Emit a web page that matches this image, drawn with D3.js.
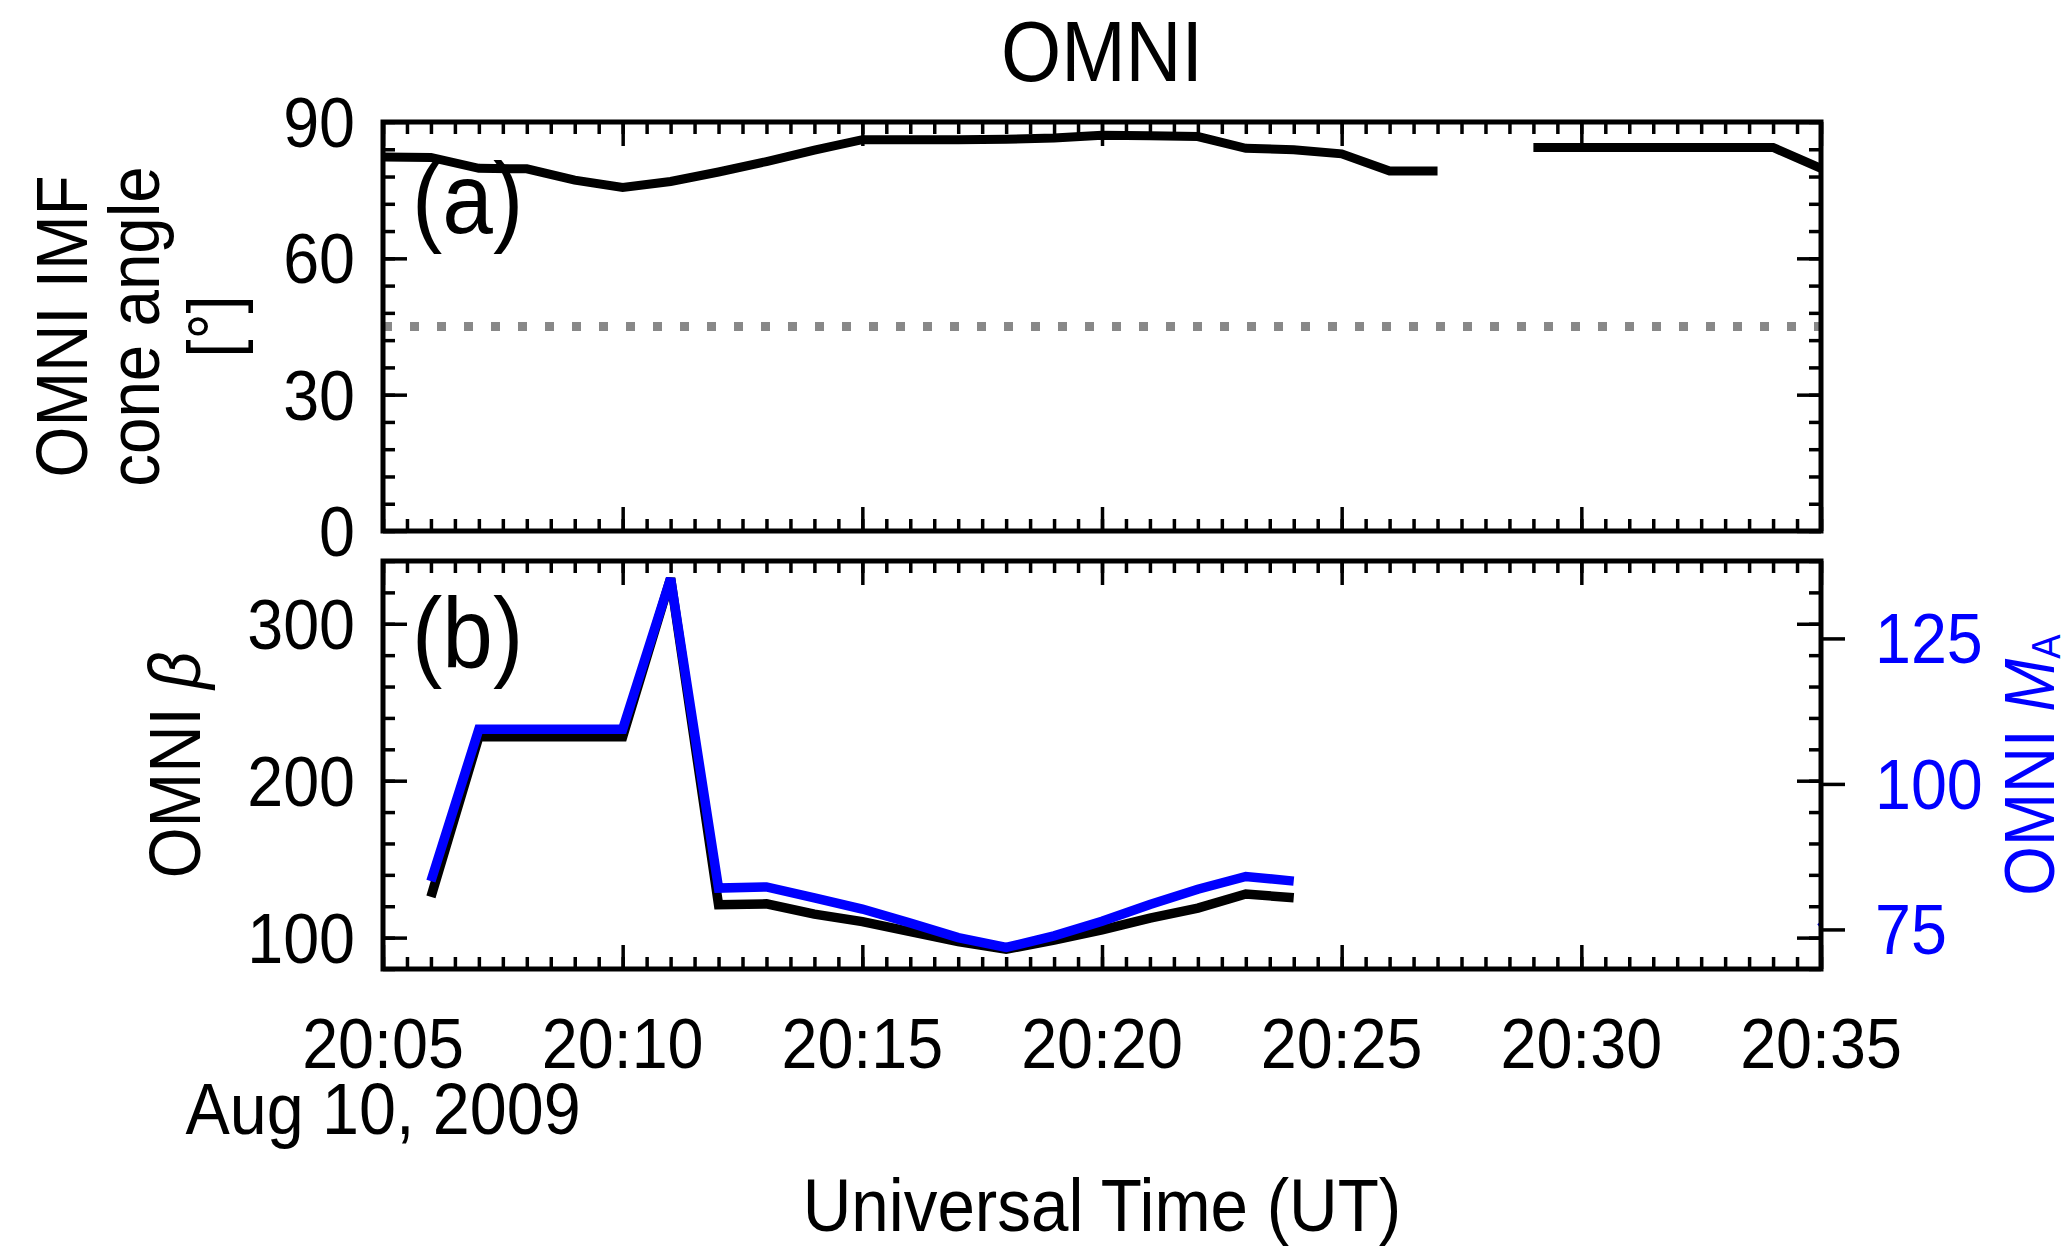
<!DOCTYPE html>
<html>
<head>
<meta charset="utf-8">
<script src="https://cdn.jsdelivr.net/npm/d3@7"></script>
<style>
  html, body { margin: 0; padding: 0; background: #fff; }
  svg { display: block; }
</style>
</head>
<body>
<svg id="chart" width="2072" height="1250"></svg>
<script>
// One-minute OMNI samples, 2009-08-10 (UT)
const times = [
  "20:05","20:06","20:07","20:08","20:09","20:10","20:11","20:12",
  "20:13","20:14","20:15","20:16","20:17","20:18","20:19","20:20",
  "20:21","20:22","20:23","20:24","20:25","20:26","20:27","20:28",
  "20:29","20:30","20:31","20:32","20:33","20:34","20:35","20:36"
];
// IMF cone angle [deg]; null = data gap
const coneAngle = [
  82.3, 82.2, 79.8, 79.7, 77.2, 75.6, 76.9, 79.0,
  81.3, 83.8, 86.1, 86.1, 86.1, 86.2, 86.5, 87.1,
  87.0, 86.8, 84.2, 83.9, 83.0, 79.2, 79.2, null,
  84.4, 84.4, 84.4, 84.4, 84.4, 84.4, 79.8, null
];
// Plasma beta
const beta = [
  null, 126.0, 228.0, 228.0, 228.0, 228.0, 329.0, 121.0,
  121.5, 115.0, 110.2, 103.8, 97.4, 92.6, 98.5, 104.9,
  112.4, 118.8, 127.8, 125.4, null, null, null, null,
  null, null, null, null, null, null, null, null
];
// Alfven Mach number
const machA = [
  null, 83.3, 109.4, 109.4, 109.4, 109.4, 135.3, 82.1,
  82.3, 80.4, 78.5, 76.1, 73.6, 71.9, 73.9, 76.4,
  79.3, 81.9, 84.1, 83.3, null, null, null, null,
  null, null, null, null, null, null, 76.4, 66.0
];

const xTickLabels = ["20:05","20:10","20:15","20:20","20:25","20:30","20:35"];
const coneTicks = [0, 30, 60, 90];
const betaTicks = [100, 200, 300];
const machTicks = [75, 100, 125];
const coneThreshold = 45;
const dateLabel = "Aug 10, 2009";

const parseUT = s => new Date(Date.UTC(2009, 7, 10, +s.slice(0, 2), +s.slice(3, 5)));

const svg = d3.select("#chart")
  .attr("font-family", "'Liberation Sans', Arial, Helvetica, sans-serif");

const L = 383, R = 1821;
const panelA = { top: 122, bottom: 531 };
const panelB = { top: 561, bottom: 969 };

const x = d3.scaleUtc()
  .domain([parseUT("20:05"), parseUT("20:35")])
  .range([L, R]);
const yA = d3.scaleLinear().domain([0, 90]).range([panelA.bottom, panelA.top]);
const yB = d3.scaleLinear().domain([80, 340]).range([panelB.bottom, panelB.top]);
const yM = d3.scaleLinear().domain([68.2, 138.3]).range([panelB.bottom, panelB.top]);

const FS = 71;      // base text size
const SX = 0.91;    // horizontal glyph squeeze of the typeface

function txt(parent, px, py, str, opt = {}) {
  const t = parent.append("text")
    .attr("transform", `translate(${px},${py}) rotate(${opt.rotate || 0}) scale(${SX},1)`)
    .attr("text-anchor", opt.anchor || "middle")
    .attr("font-size", opt.size || FS)
    .attr("fill", opt.fill || "#000");
  if (str != null) t.text(str);
  return t;
}

function tidy(sel) {
  sel.select(".domain").remove();
  sel.attr("font-size", null).attr("font-family", null);
  sel.selectAll("text").remove();
  sel.selectAll("line").attr("stroke", "#000").attr("stroke-width", 3.5);
}

function timeTicks(p) {
  const minor = x.ticks(d3.utcSecond.every(30));
  const major = x.ticks(d3.utcMinute.every(5));
  [[minor, 12], [major, 24]].forEach(([vals, len]) => {
    svg.append("g").attr("transform", `translate(0,${p.bottom})`)
      .call(d3.axisBottom(x).tickValues(vals).tickSize(-len)).call(tidy);
    svg.append("g").attr("transform", `translate(0,${p.top})`)
      .call(d3.axisTop(x).tickValues(vals).tickSize(-len)).call(tidy);
  });
}

function valueTicks(scale, minor, major) {
  [[minor, 12], [major, 24]].forEach(([vals, len]) => {
    svg.append("g").attr("transform", `translate(${L},0)`)
      .call(d3.axisLeft(scale).tickValues(vals).tickSize(-len)).call(tidy);
    svg.append("g").attr("transform", `translate(${R},0)`)
      .call(d3.axisRight(scale).tickValues(vals).tickSize(-len)).call(tidy);
  });
}

// clip regions for the data lines
const defs = svg.append("defs");
[["clipA", panelA], ["clipB", panelB]].forEach(([id, p]) => {
  defs.append("clipPath").attr("id", id)
    .append("rect").attr("x", L).attr("y", p.top)
    .attr("width", R - L).attr("height", p.bottom - p.top);
});

const series = vals => times.map((t, i) => ({ t: parseUT(t), v: vals[i] }));
const lineFor = ys => d3.line()
  .defined(d => d.v != null)
  .x(d => x(d.t))
  .y(d => ys(d.v));

// ---------- panel (a): cone angle ----------
svg.append("path")
  .datum(x.domain().map(t => ({ t, v: coneThreshold })))
  .attr("d", lineFor(yA))
  .attr("fill", "none").attr("stroke", "#888")
  .attr("stroke-width", 9).attr("stroke-dasharray", "9,18");

svg.append("path")
  .datum(series(coneAngle))
  .attr("clip-path", "url(#clipA)")
  .attr("d", lineFor(yA))
  .attr("fill", "none").attr("stroke", "#000")
  .attr("stroke-width", 9).attr("stroke-linejoin", "miter");

timeTicks(panelA);
valueTicks(yA, d3.range(0, 91, 6), coneTicks);

svg.append("rect")
  .attr("x", L).attr("y", panelA.top)
  .attr("width", R - L).attr("height", panelA.bottom - panelA.top)
  .attr("fill", "none").attr("stroke", "#000").attr("stroke-width", 5);

coneTicks.forEach(v => txt(svg, 355, yA(v) + 25, String(v), { anchor: "end" }));

txt(svg, 412, 233, "(a)", { anchor: "start", size: 100 });

// ---------- panel (b): beta and Alfven Mach number ----------
svg.append("path")
  .datum(series(beta))
  .attr("clip-path", "url(#clipB)")
  .attr("d", lineFor(yB))
  .attr("fill", "none").attr("stroke", "#000")
  .attr("stroke-width", 9.5).attr("stroke-linejoin", "miter");

svg.append("path")
  .datum(series(machA))
  .attr("clip-path", "url(#clipB)")
  .attr("d", lineFor(yM))
  .attr("fill", "none").attr("stroke", "#0000ff")
  .attr("stroke-width", 9.5).attr("stroke-linejoin", "miter");

timeTicks(panelB);
valueTicks(yB, d3.range(80, 341, 20), betaTicks);

// outward ticks of the Mach-number axis
svg.append("g").attr("transform", `translate(${R},0)`)
  .call(d3.axisRight(yM).tickValues(machTicks).tickSize(24)).call(tidy);

svg.append("rect")
  .attr("x", L).attr("y", panelB.top)
  .attr("width", R - L).attr("height", panelB.bottom - panelB.top)
  .attr("fill", "none").attr("stroke", "#000").attr("stroke-width", 5);

betaTicks.forEach(v => txt(svg, 355, yB(v) + 25, String(v), { anchor: "end" }));
machTicks.forEach(v => txt(svg, 1875, yM(v) + 25, String(v), { anchor: "start", fill: "#0000ff" }));

txt(svg, 412, 668, "(b)", { anchor: "start", size: 100 });

// ---------- time axis labels ----------
xTickLabels.forEach(s => txt(svg, x(parseUT(s)), 1068, s));
txt(svg, x(parseUT(xTickLabels[0])), 1134, dateLabel, { size: 73 });
txt(svg, (L + R) / 2, 1231, "Universal Time (UT)", { size: 74 });

// ---------- titles ----------
txt(svg, (L + R) / 2, 81, "OMNI", { size: 85 });

const midA = (panelA.top + panelA.bottom) / 2;
txt(svg, 87, midA, "OMNI IMF", { rotate: -90, size: 72 });
txt(svg, 159, midA, "cone angle", { rotate: -90, size: 72 });
txt(svg, 238, midA, "[°]", { rotate: -90, size: 72 });

const midB = (panelB.top + panelB.bottom) / 2;
const betaLabel = txt(svg, 200, midB, null, { rotate: -90, size: 72 });
betaLabel.append("tspan").text("OMNI ");
betaLabel.append("tspan").attr("font-style", "italic").text("β");

const machLabel = txt(svg, 2054, midB, null, { rotate: -90, size: 70, fill: "#0000ff" });
machLabel.append("tspan").text("OMNI ");
machLabel.append("tspan").attr("font-style", "italic").text("M");
machLabel.append("tspan").attr("font-size", 40).attr("dy", 6).text("A");
</script>
</body>
</html>
